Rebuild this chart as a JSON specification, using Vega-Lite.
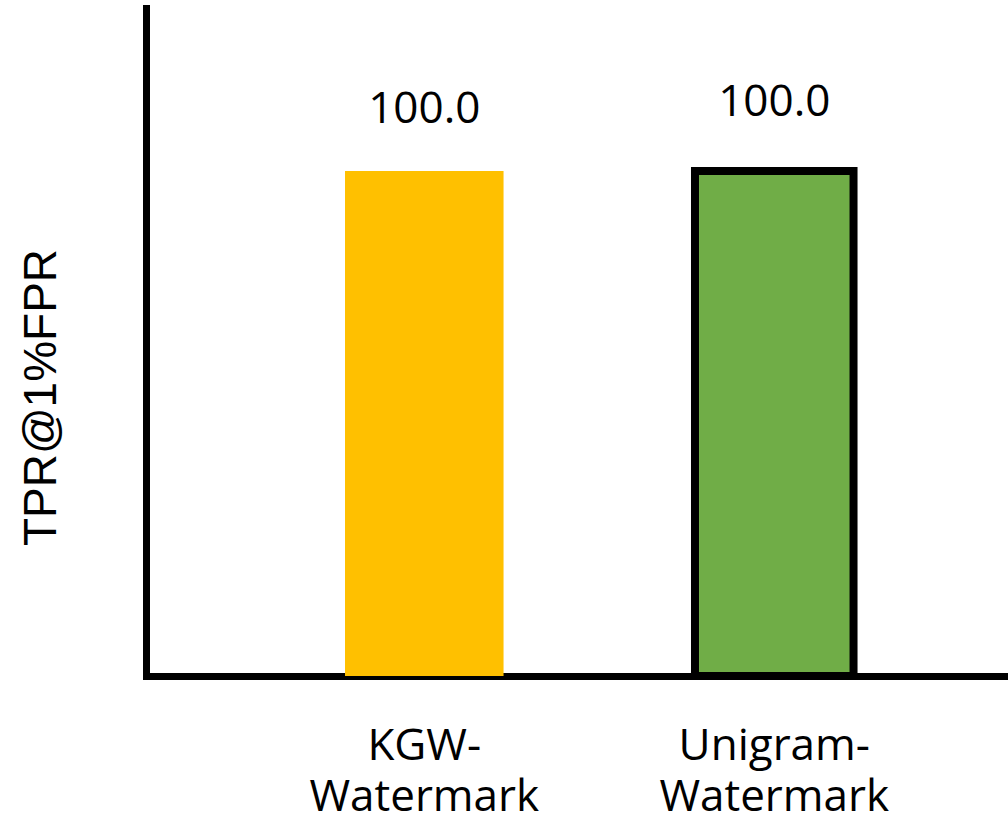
{
  "$schema": "https://vega.github.io/schema/vega-lite/v6.json",
  "width": 862,
  "height": 668,
  "autosize": "none",
  "padding": {"left": 146, "top": 8, "right": 0, "bottom": 139},
  "background": "white",
  "config": {"view": {"stroke": null}},
  "data": {"values": [
    {"method": "KGW-Watermark", "tpr": 100.0},
    {"method": "Unigram-Watermark", "tpr": 100.0}
  ]},
  "encoding": {
    "x": {
      "field": "method", "type": "nominal", "sort": null,
      "scale": {"paddingInner": 0.547, "paddingOuter": 0.505, "align": 0.563},
      "axis": {
        "title": null, "ticks": false, "domainColor": "black", "domainWidth": 7, "domainCap": "square",
        "labelAngle": 0, "labelFont": "Open Sans", "labelFontSize": 44, "labelColor": "black", "labelLimit": 0,
        "labelPadding": 70, "labelLineHeight": 51, "labelBaseline": "middle",
        "labelExpr": "[slice(datum.label, 0, indexof(datum.label, '-') + 1), slice(datum.label, indexof(datum.label, '-') + 1)]"
      }
    },
    "y": {
      "field": "tpr", "type": "quantitative",
      "scale": {"domain": [0, 132.3], "nice": false, "zero": true},
      "axis": {
        "title": "TPR@1%FPR", "ticks": false, "labels": false, "grid": false,
        "domainColor": "black", "domainWidth": 7, "domainCap": "square",
        "titleFont": "Liberation Sans", "titleFontSize": 46, "titleFontWeight": "normal", "titleColor": "black",
        "titleX": -105, "titleY": 389, "titleAngle": -90, "titleAlign": "center", "titleBaseline": "middle"
      }
    }
  },
  "layer": [
    {
      "mark": {"type": "bar", "stroke": "black"},
      "encoding": {
        "color": {"field": "method", "type": "nominal", "legend": null,
          "scale": {"domain": ["KGW-Watermark", "Unigram-Watermark"], "range": ["#FFC000", "#70AD47"]}},
        "strokeWidth": {"condition": {"test": "datum.method === 'Unigram-Watermark'", "value": 8}, "value": 0}
      }
    },
    {
      "transform": [{"filter": "datum.method === 'KGW-Watermark'"}],
      "mark": {"type": "text", "font": "Open Sans", "fontSize": 44, "color": "black", "baseline": "middle", "dy": -61},
      "encoding": {"text": {"field": "tpr", "type": "quantitative", "format": ".1f"}}
    },
    {
      "transform": [{"filter": "datum.method === 'Unigram-Watermark'"}],
      "mark": {"type": "text", "font": "Open Sans", "fontSize": 44, "color": "black", "baseline": "middle", "dy": -68},
      "encoding": {"text": {"field": "tpr", "type": "quantitative", "format": ".1f"}}
    }
  ]
}
